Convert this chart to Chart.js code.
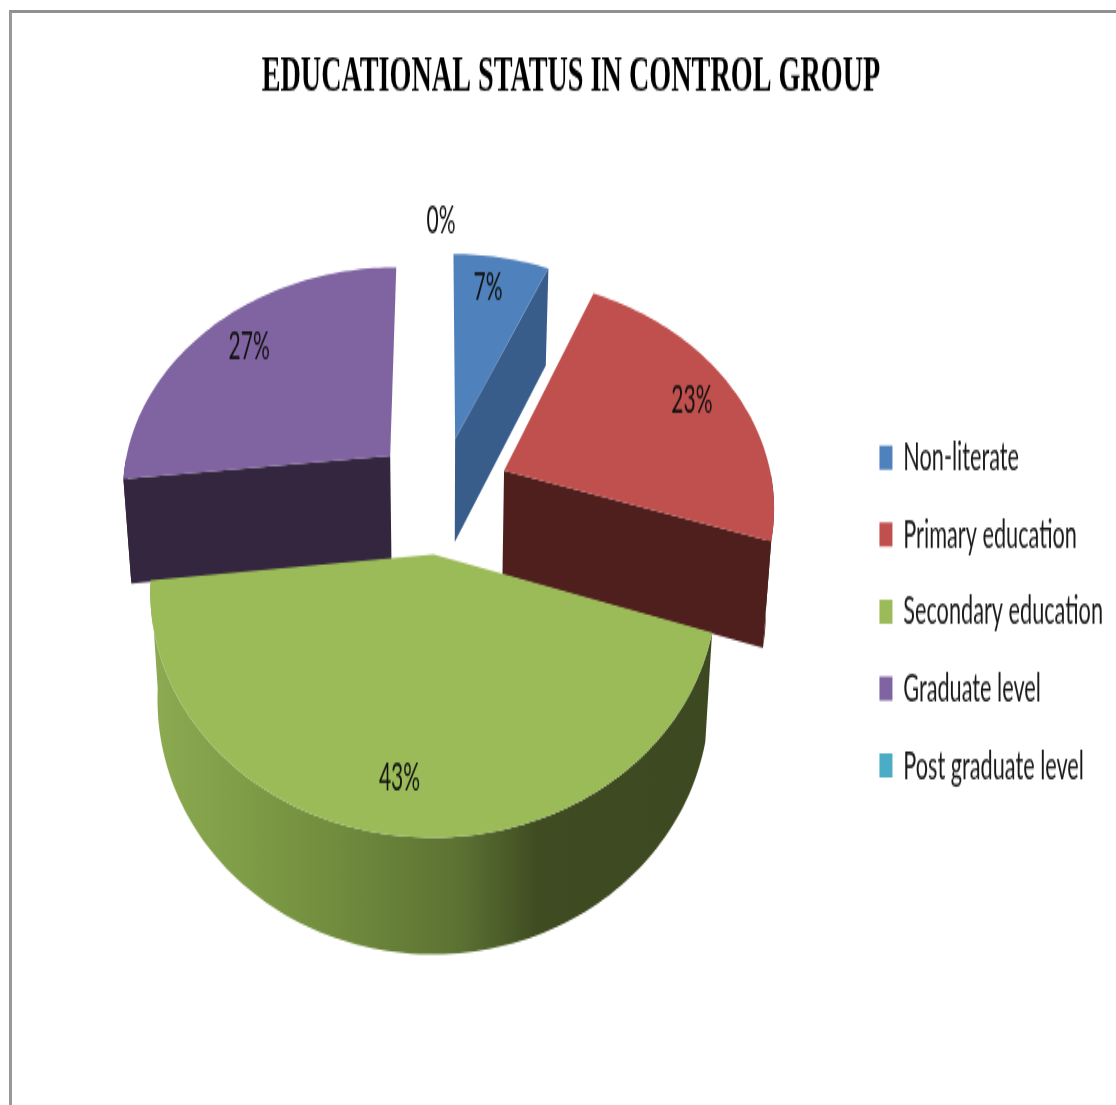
<!DOCTYPE html>
<html>
<head>
<meta charset="utf-8">
<title>Educational status in control group</title>
<script src="https://cdn.jsdelivr.net/npm/chart.js@4"></script>
<style>
    html, body { margin: 0; padding: 0; background: #fff; overflow: hidden; }
    #frame { position: absolute; left: 9px; top: 10px; right: 0; bottom: 0; border-left: 3px solid #999; border-top: 3px solid #909090; }
    #stretch { position: absolute; left: 0; top: 0; width: 1116px; height: 597px; transform-origin: 0 0; }
</style>
</head>
<body>
<div id="frame"></div>
<div id="stretch"><canvas id="chart" width="1116" height="597"></canvas></div>
<script>
const CHART_TITLE = 'EDUCATIONAL STATUS IN CONTROL GROUP';
const categories = ['Non-literate', 'Primary education', 'Secondary education', 'Graduate level', 'Post graduate level'];
// labels on the picture are these rounded to whole percents
const percentages = [6.7, 23.3, 43.3, 26.7, 0];
const topColors = ['#4f81bd', '#c0504d', '#9bbb59', '#8064a2', '#4bacc6'];
const wallColors = ['#385d8a', '#4f1f1e', null, '#35263f', '#2f6f80'];

// the source picture is stretched vertically, so is the whole canvas here
const STRETCH = 1105 / 597;
document.getElementById('stretch').style.transform = `scaleY(${STRETCH})`;

// fake 3D view of the flat pie
const VIEW = {
    centerX: 441,
    centerY: 494 / STRETCH,
    tilt: (225 / 270) / STRETCH,
    perspective: 0.14,
    depthBase: 50 / STRETCH,
    depthScale: 55 / STRETCH,
    bottomSqueeze: 0.975,
    labelShiftX: [-6, 0, -6, 5, 0]
};

function project(dx, dy, radius, lower) {
    const s = 1 / (1 - VIEW.perspective * dy / radius);
    let x = dx * s;
    let y = dy * VIEW.tilt * s;
    if (lower) {
        x *= VIEW.bottomSqueeze;
        y += VIEW.depthBase + VIEW.depthScale * s;
    }
    return { x: VIEW.centerX + x, y: VIEW.centerY + y };
}

function slicePoints(arc) {
    const mid = (arc.startAngle + arc.endAngle) / 2;
    const offset = arc.options.offset;
    const apex = { dx: Math.cos(mid) * offset, dy: Math.sin(mid) * offset };
    const rim = [];
    const steps = Math.max(2, Math.ceil((arc.endAngle - arc.startAngle) * 40));
    for (let i = 0; i <= steps; i++) {
        const a = arc.startAngle + (arc.endAngle - arc.startAngle) * i / steps;
        rim.push({ angle: a, dx: apex.dx + Math.cos(a) * arc.outerRadius, dy: apex.dy + Math.sin(a) * arc.outerRadius });
    }
    return { apex, rim };
}

function fillPolygon(ctx, points, fill) {
    ctx.beginPath();
    points.forEach((p, i) => i === 0 ? ctx.moveTo(p.x, p.y) : ctx.lineTo(p.x, p.y));
    ctx.closePath();
    ctx.fillStyle = fill;
    ctx.fill();
}

function wallPolygon(points, radius) {
    const top = points.map(p => project(p.dx, p.dy, radius, false));
    const bottom = points.map(p => project(p.dx, p.dy, radius, true));
    return top.concat(bottom.reverse());
}

function greenWallGradient(ctx, points) {
    const xs = points.map(p => p.x);
    const left = Math.min(...xs);
    const right = Math.max(...xs);
    const gradient = ctx.createLinearGradient(left, 0, right, 0);
    gradient.addColorStop(0, '#8dab52');
    gradient.addColorStop(0.3, '#74903f');
    gradient.addColorStop(0.55, '#5c7233');
    gradient.addColorStop(0.69, '#3f4c22');
    gradient.addColorStop(1, '#3d4921');
    return gradient;
}

const pie3d = {
    id: 'pie3d',
    // replaces the flat arcs with tilted slices built from the library's own arc angles
    beforeDatasetsDraw(chart) {
        const ctx = chart.ctx;
        const arcs = chart.getDatasetMeta(0).data;

        const order = arcs
            .map((arc, index) => ({ arc, index }))
            .filter(item => item.arc.endAngle - item.arc.startAngle > 0)
            .sort((a, b) => Math.sin((a.arc.startAngle + a.arc.endAngle) / 2) - Math.sin((b.arc.startAngle + b.arc.endAngle) / 2));

        order.forEach(({ arc, index }) => {
            const radius = arc.outerRadius;
            const { apex, rim } = slicePoints(arc);
            const frontRim = rim.filter(p => Math.sin(p.angle) >= 0);
            const outer = wallPolygon(frontRim, radius);
            const wall = wallColors[index] || greenWallGradient(ctx, outer);

            // only the faces turned to the viewer
            if (Math.cos(arc.startAngle) < -1e-6) {
                fillPolygon(ctx, wallPolygon([apex, rim[0]], radius), wall);
            }
            if (Math.cos(arc.endAngle) > 1e-6) {
                fillPolygon(ctx, wallPolygon([apex, rim[rim.length - 1]], radius), wall);
            }
            if (frontRim.length > 1) {
                fillPolygon(ctx, outer, wall);
            }

            const top = [apex].concat(rim).map(p => project(p.dx, p.dy, radius, false));
            fillPolygon(ctx, top, arc.options.backgroundColor);
        });

        // percentage labels
        ctx.save();
        ctx.font = '21px Lato';
        ctx.fillStyle = '#111';
        ctx.textAlign = 'center';
        ctx.textBaseline = 'middle';
        arcs.forEach((arc, index) => {
            const mid = (arc.startAngle + arc.endAngle) / 2;
            const reach = percentages[index] === 0 ? 1.2 : 0.82;
            const length = arc.options.offset + reach * arc.outerRadius;
            const p = project(Math.cos(mid) * length, Math.sin(mid) * length, arc.outerRadius, false);
            ctx.fillText(Math.round(percentages[index]) + '%', p.x + VIEW.labelShiftX[index], p.y);
        });
        ctx.restore();

        return false;
    }
};

new Chart(document.getElementById('chart'), {
    type: 'pie',
    data: {
        labels: categories,
        datasets: [{
            data: percentages,
            backgroundColor: topColors,
            borderWidth: 0,
            offset: 70
        }]
    },
    options: {
        responsive: false,
        devicePixelRatio: 1,
        animation: false,
        radius: 270,
        layout: { padding: { left: 29, right: 3 } },
        plugins: {
            title: {
                display: true,
                text: CHART_TITLE,
                color: '#000',
                font: { family: 'Liberation Serif', size: 28.2, weight: 'bold' },
                padding: { top: 25, bottom: 5 }
            },
            legend: {
                position: 'right',
                fullSize: false,
                labels: {
                    color: '#1a1a1a',
                    font: { family: 'Lato', size: 21.7 },
                    boxWidth: 13,
                    boxHeight: 13,
                    padding: 19.9
                }
            },
            tooltip: { enabled: false }
        }
    },
    plugins: [pie3d]
});
</script>
</body>
</html>
